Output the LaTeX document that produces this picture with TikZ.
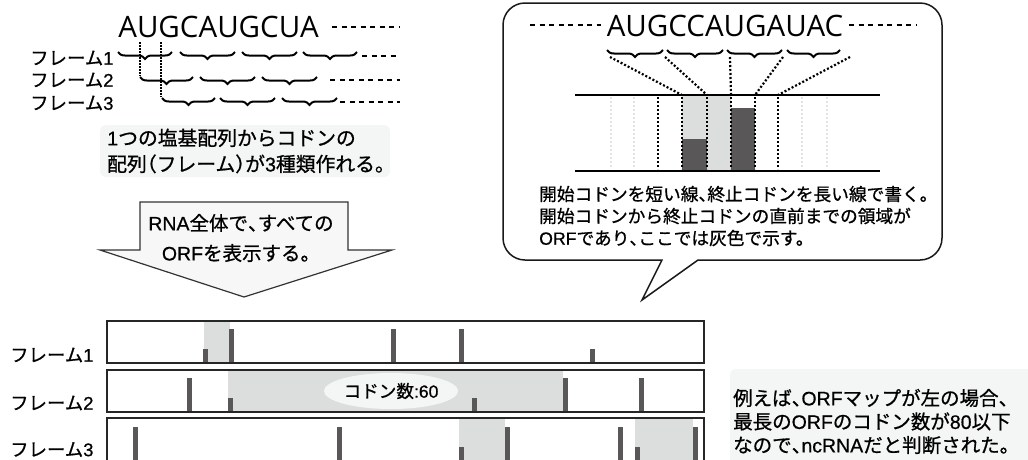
\documentclass[tikz,border=0pt]{standalone}
\usepackage{fontspec}
\newfontfamily\cjk{Noto Sans CJK JP}[FakeBold=0.8]
\newfontfamily\lat{Liberation Sans}[FakeBold=0.6]
\newfontfamily\seqfont{Open Sans}
\newcommand\jpcomma{\makebox[0.5em][l]{、}}
\newcommand\jpopen{\makebox[0.5em][r]{（}}
\newcommand\jpclose{\makebox[0.5em][l]{）}}
\usetikzlibrary{decorations.pathreplacing,shapes.geometric}
\definecolor{bargray}{HTML}{595757}
\definecolor{shadegray}{HTML}{DCDDDD}
\definecolor{notebg}{HTML}{F4F5F5}
\definecolor{arrowbg}{HTML}{F7F7F7}
\definecolor{faintdot}{HTML}{E2E2E2}
\begin{document}
\begin{tikzpicture}[x=1pt,y=-1pt,
  jp/.style={font=\cjk\fontsize{18.4}{22}\selectfont, inner sep=0pt},
  seq/.style={font=\seqfont\fontsize{29.5}{32}\selectfont, inner sep=0pt},
  codonbrace/.style={decorate, decoration={brace, amplitude=7pt, mirror}, line width=2pt},
  trail/.style={line width=2pt, dash pattern=on 5pt off 4.5pt},
  guide/.style={line width=1.2pt, dash pattern=on 1.5pt off 1.5pt},
  thickdot/.style={line width=2.2pt, dash pattern=on 2pt off 2pt},
  faint/.style={line width=1.5pt, draw=faintdot, dash pattern=on 2pt off 2pt},
  bar/.style={fill=bargray},
  orfshade/.style={fill=shadegray},
  framebox/.style={line width=1.5pt, draw=black!85},
  notebox/.style={fill=notebg, rounded corners=6pt},
  callout/.style={draw=black!90, fill=white, line width=1.5pt},
  bigarrow/.style={draw=black!80, fill=arrowbg, line width=1.2pt},
]
\useasboundingbox (0,0) rectangle (1028,459);

% ---------- top left: three reading frames ----------
\node[seq, anchor=base] (seq1) at (218.5,37) {AUGCAUGCUA};
\draw[trail] (332,27) -- (400,27);

\node[jp, anchor=west] (tf1) at (30,58) {フレーム{\lat 1}};
\node[jp, anchor=west] (tf2) at (30,80) {フレーム{\lat 2}};
\node[jp, anchor=west] (tf3) at (30,103) {フレーム{\lat 3}};

\draw[guide] (140,42) -- (140,76);
\draw[guide] (161,42) -- (161,97);

\draw[codonbrace] (118,52) -- (172,52);
\draw[codonbrace] (180,52) -- (235,52);
\draw[codonbrace] (242,52) -- (297,52);
\draw[codonbrace] (303,52) -- (357,52);
\draw[trail] (362,56) -- (400,56);

\draw[codonbrace] (140,77) -- (193,77);
\draw[codonbrace] (200,77) -- (255,77);
\draw[codonbrace] (262,77) -- (317,77);
\draw[trail] (330,80) -- (400,80);

\draw[codonbrace] (162,98) -- (215,98);
\draw[codonbrace] (220,98) -- (275,98);
\draw[codonbrace] (282,98) -- (337,98);
\draw[trail] (340,102) -- (400,102);

\fill[notebox] (100,125) rectangle (390,177);
\node[jp, anchor=west, align=left, font=\cjk\fontsize{19.8}{26}\selectfont] (note1) at (107,151) {{\lat 1}つの塩基配列からコドンの\\配列\jpopen フレーム\jpclose が{\lat 3}種類作れる。};

% ---------- big arrow ----------
\draw[bigarrow] (140,202) -- (348,202) -- (348,250) -- (392,250) -- (244,297) -- (100,250) -- (140,250) -- cycle;
\node[jp, align=center, font=\cjk\fontsize{19.5}{30}\selectfont] (arrowtxt) at (241,238) {{\lat RNA}全体で\jpcomma すべての\\{\lat ORF}を表示する。};

% ---------- callout ----------
\draw[callout] (662,260) -- (525,260) .. controls (512.85,260) and (503,250.15) .. (503,238)
  -- (503,25) .. controls (503,12.85) and (512.85,3) .. (525,3)
  -- (920,3) .. controls (932.15,3) and (942,12.85) .. (942,25)
  -- (942,238) .. controls (942,250.15) and (932.15,260) .. (920,260)
  -- (698,260) -- (642,300) -- cycle;

\draw[trail] (530,25) -- (601,25);
\draw[trail] (849,25) -- (917,25);
\node[seq, anchor=base] (seq2) at (725,36) {AUGCCAUGAUAC};

\draw[codonbrace] (607,50) -- (663,50);
\draw[codonbrace] (667,50) -- (723,50);
\draw[codonbrace] (727,50) -- (782,50);
\draw[codonbrace] (787,50) -- (840,50);

\fill[orfshade] (682,95) rectangle (731,171);
\fill[bar] (682,139) rectangle (707,171);
\fill[bar] (731,108) rectangle (755,171);

\foreach \x in {611,634,802,827} \draw[faint] (\x,97) -- (\x,169);
\foreach \x in {658,682,707,731,755,778} \draw[thickdot] (\x,97) -- (\x,169);

\draw[thickdot] (610,57) -- (682,95);
\draw[thickdot] (665,57) -- (707,95);
\draw[thickdot] (730,57) -- (731,95);
\draw[thickdot] (783,57) -- (755,95);
\draw[thickdot] (850,57) -- (778,95);

\draw[line width=2.2pt] (575,95) -- (880,95);
\draw[line width=2.2pt] (575,171) -- (880,171);

\node[jp, anchor=west, align=left, font=\cjk\fontsize{17.7}{22}\selectfont] (calltxt) at (539,216) {開始コドンを短い線\jpcomma 終止コドンを長い線で書く。\\開始コドンから終止コドンの直前までの領域が\\{\lat ORF}であり\jpcomma ここでは灰色で示す。};

% ---------- ORF map ----------
\node[jp, anchor=west] (mf1) at (10,355) {フレーム{\lat 1}};
\node[jp, anchor=west] (mf2) at (10,403) {フレーム{\lat 2}};
\node[jp, anchor=west] (mf3) at (10,449.5) {フレーム{\lat 3}};

% frame 1
\fill[orfshade] (204,321) rectangle (230,363);
\fill[bar] (203,349) rectangle (208,363);
\fill[bar] (229,329) rectangle (234,363);
\fill[bar] (391,329) rectangle (396,363);
\fill[bar] (459,329) rectangle (464,363);
\fill[bar] (590,349) rectangle (595,363);
\draw[framebox] (107,321) rectangle (704,363);

% frame 2
\fill[orfshade] (228,370) rectangle (563,412);
\node[ellipse, fill=notebg, minimum width=128pt, minimum height=36pt, inner sep=0pt, font=\cjk\fontsize{17.6}{20}\selectfont] (count) at (391,391) {コドン数{\lat :60}};
\fill[bar] (187,378) rectangle (192,412);
\fill[bar] (228,398) rectangle (233,412);
\fill[bar] (472,398) rectangle (477,412);
\fill[bar] (563,378) rectangle (568,412);
\fill[bar] (639,378) rectangle (644,412);
\draw[framebox] (107,370) rectangle (704,412);

% frame 3
\fill[orfshade] (459,418) rectangle (505,462);
\fill[orfshade] (635,418) rectangle (693,462);
\fill[bar] (133,427) rectangle (138,462);
\fill[bar] (337,427) rectangle (342,462);
\fill[bar] (459,447) rectangle (464,462);
\fill[bar] (505,427) rectangle (510,462);
\fill[bar] (618,427) rectangle (623,462);
\fill[bar] (635,447) rectangle (640,462);
\fill[bar] (693,427) rectangle (698,462);
\draw[framebox] (107,418) rectangle (704,462);

% ---------- right note ----------
\fill[notebox] (730,369) rectangle (1040,470);
\node[jp, anchor=west, align=left, font=\cjk\fontsize{19.5}{23.5}\selectfont] (note2) at (733,421.5) {例えば\jpcomma{\lat ORF}マップが左の場合、\\最長の{\lat ORF}のコドン数が{\lat 80}以下\\なので\jpcomma{\lat ncRNA}だと判断された。};
\end{tikzpicture}
\end{document}
